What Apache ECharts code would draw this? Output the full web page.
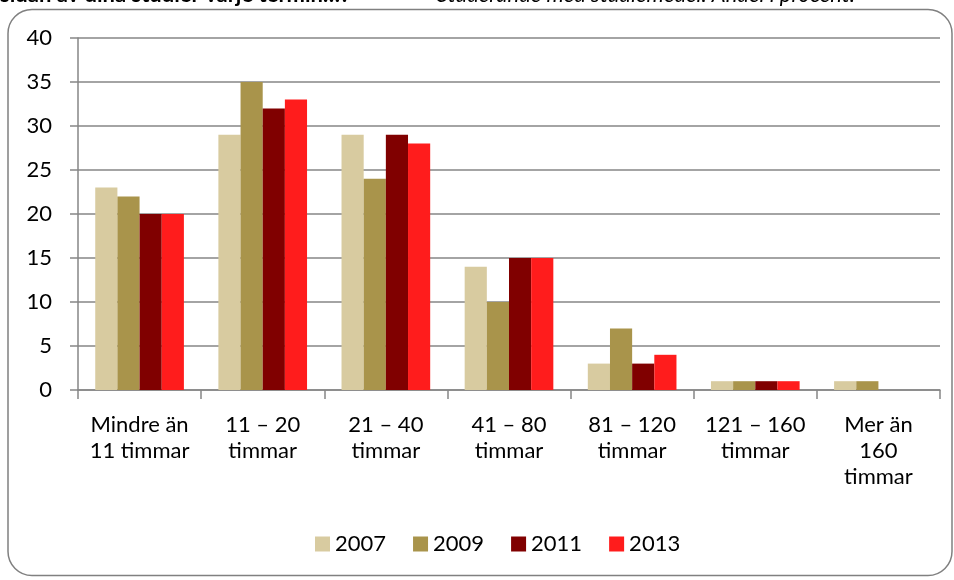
<!DOCTYPE html>
<html>
<head>
<meta charset="utf-8">
<script src="https://cdn.jsdelivr.net/npm/echarts@6/dist/echarts.min.js"></script>
<style>
  html, body { margin: 0; padding: 0; background: #fff; }
  #chart { width: 954px; height: 580px; }
</style>
</head>
<body>
<div id="chart"></div>
<script>
// kategorier och värden (andel i procent)
var categories = ['Mindre än\n11 timmar', '11 – 20\ntimmar', '21 – 40\ntimmar', '41 – 80\ntimmar',
                  '81 – 120\ntimmar', '121 – 160\ntimmar', 'Mer än\n160\ntimmar'];
var years = ['2007', '2009', '2011', '2013'];
var v2007 = [23, 29, 29, 14, 3, 1, 1];
var v2009 = [22, 35, 24, 10, 7, 1, 1];
var v2011 = [20, 32, 29, 15, 3, 1, null];
var v2013 = [20, 33, 28, 15, 4, 1, null];
var colors = ['#D8CBA0', '#A9944B', '#800000', '#FF1C1C'];

var font = 'Lato, "Open Sans", sans-serif';
var chart = echarts.init(document.getElementById('chart'));

var values = [v2007, v2009, v2011, v2013];
var series = years.map(function (y, i) {
    return {
        name: y,
        type: 'bar',
        data: values[i],
        barGap: '0%',
        barCategoryGap: '28%',
        itemStyle: { color: colors[i] }
    };
});

var option = {
    animation: false,
    color: colors,
    textStyle: { fontFamily: font },
    graphic: [
        {
            type: 'rect',
            shape: { x: 8, y: 9.5, width: 944, height: 566, r: 24 },
            style: { fill: 'none', stroke: '#808080', lineWidth: 1.5 },
            z: -1
        },
        {   // rubriken är avklippt upptill
            type: 'text',
            style: { x: 0, y: 6, verticalAlign: 'bottom', text: 'sidan av dina studier varje termin…?',
                     font: 'bold 22px ' + font, fill: '#000' }
        },
        {
            type: 'text',
            style: { x: 437, y: 6, verticalAlign: 'bottom', text: 'Studerande med studiemedel. Andel i procent.',
                     font: 'italic 22px ' + font, fill: '#000' }
        }
    ],
    grid: { left: 78, right: 14, top: 38, bottom: 190 },
    legend: {
        data: years,
        bottom: 20,
        left: 310,
        itemWidth: 15,
        itemHeight: 15,
        itemGap: 27,
        icon: 'rect',
        textStyle: { fontSize: 22, color: '#000', fontFamily: font }
    },
    xAxis: {
        type: 'category',
        data: categories,
        axisLine: { lineStyle: { color: '#868686', width: 1.5 } },
        axisTick: { show: true, length: 9, alignWithLabel: false, lineStyle: { color: '#868686', width: 1.5 } },
        axisLabel: {
            color: '#000', fontSize: 22, lineHeight: 26, margin: 22, interval: 0,
            fontFamily: font
        }
    },
    yAxis: {
        type: 'value',
        min: 0, max: 40, interval: 5,
        axisLine: { show: true, lineStyle: { color: '#868686', width: 1.5 } },
        axisTick: { show: true, length: 8, lineStyle: { color: '#868686', width: 1.5 } },
        splitLine: { lineStyle: { color: '#868686', width: 1.5 } },
        axisLabel: { color: '#000', fontSize: 22, margin: 26, fontFamily: font }
    },
    series: series
};
chart.setOption(option);
</script>
</body>
</html>
